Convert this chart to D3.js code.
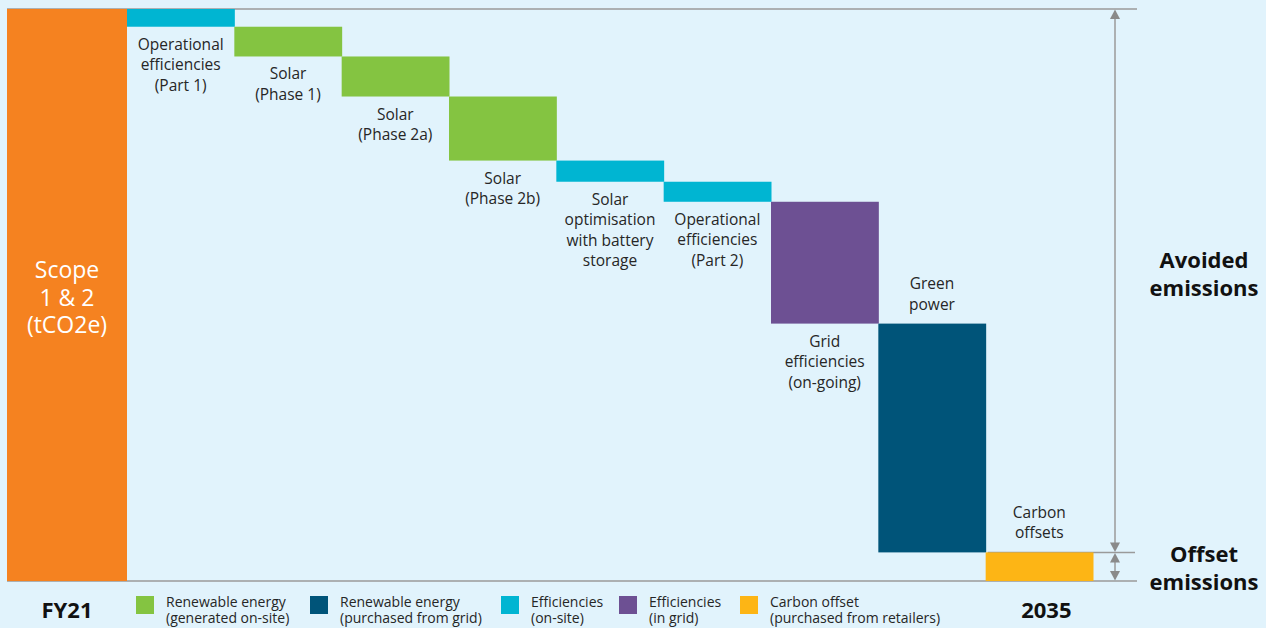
<!DOCTYPE html>
<html><head><meta charset="utf-8">
<script src="https://cdn.jsdelivr.net/npm/d3@7"></script>
<style>
html,body{margin:0;padding:0;background:#E1F3FC;}
svg{display:block;font-family:"Open Sans",sans-serif;}
</style></head>
<body><svg id="c" width="1266" height="628"></svg>
<script>
// ---- data ----
const startLabel = "FY21";
const endLabel = "2035";
const startValue = 100;
const startText = ["Scope", "1 & 2", "(tCO2e)"];
const steps = ["opEff1","solar1","solar2a","solar2b","solarOpt","opEff2","grid","green","offset"];
const stepValues = [3.1, 5.2, 7.0, 11.2, 3.7, 3.5, 21.3, 40.0, 5.0];
const stepTypes = ["eff","ren","ren","ren","eff","eff","grid","purchased","offset"];
const stepLabels = [
  ["Operational","efficiencies","(Part 1)"],
  ["Solar","(Phase 1)"],
  ["Solar","(Phase 2a)"],
  ["Solar","(Phase 2b)"],
  ["Solar","optimisation","with battery","storage"],
  ["Operational","efficiencies","(Part 2)"],
  ["Grid","efficiencies","(on-going)"],
  ["Green","power"],
  ["Carbon","offsets"]
];
const labelAbove = ["green","offset"];
const legendKeys = ["ren","purchased","eff","grid","offset"];
const legendLabels = [
  ["Renewable energy","(generated on-site)"],
  ["Renewable energy","(purchased from grid)"],
  ["Efficiencies","(on-site)"],
  ["Efficiencies","(in grid)"],
  ["Carbon offset","(purchased from retailers)"]
];
const sideLabels = [["Avoided","emissions"],["Offset","emissions"]];

// ---- styles ----
const colors = {start:"#F58220", eff:"#00B5D2", ren:"#84C441", purchased:"#005479", grid:"#6D5093", offset:"#FDB515"};
const svg = d3.select("#c");
const W = 1266, H = 628;
svg.append("rect").attr("width",W).attr("height",H).attr("fill","#E1F3FC");

const y = d3.scaleLinear().domain([0, startValue]).range([581, 9]);
const xStart = d3.scaleBand().domain([startLabel]).range([7, 127]).padding(0);
const x = d3.scaleBand().domain(steps).range([127, 1093]).padding(0);

// waterfall positions
let cum = startValue;
const bars = steps.map((k,i)=>{ const top = cum; cum -= stepValues[i]; return {key:k, top, bottom:cum, type:stepTypes[i], label:stepLabels[i]}; });

const lineCol = "#9a9a9a";
svg.append("line").attr("x1",7).attr("x2",1137).attr("y1",y(startValue)).attr("y2",y(startValue)).attr("stroke",lineCol).attr("stroke-width",1.5);
svg.append("line").attr("x1",7).attr("x2",1137).attr("y1",y(0)).attr("y2",y(0)).attr("stroke",lineCol).attr("stroke-width",1.5);
const offsetBar = bars[bars.length-1];
svg.append("line").attr("x1",x(offsetBar.key)+2).attr("x2",1135).attr("y1",y(offsetBar.top)).attr("y2",y(offsetBar.top)).attr("stroke",lineCol).attr("stroke-width",1.5);

// start bar
svg.append("rect").attr("x",xStart(startLabel)).attr("width",xStart.bandwidth())
  .attr("y",y(startValue)).attr("height",y(0)-y(startValue)).attr("fill",colors.start);
const st = svg.append("text").attr("fill","#fff").attr("font-size",23).attr("text-anchor","middle");
startText.forEach((t,i)=>st.append("tspan").attr("x",xStart(startLabel)+xStart.bandwidth()/2).attr("y",278+i*27.5).text(t));

// step bars
svg.selectAll("rect.step").data(bars).join("rect").attr("class","step")
  .attr("x",d=>x(d.key)).attr("width",x.bandwidth()+0.5)
  .attr("y",d=>y(d.top)).attr("height",d=>y(d.bottom)-y(d.top))
  .attr("fill",d=>colors[d.type]);

// step labels
bars.forEach(d=>{
  const cx = x(d.key)+x.bandwidth()/2;
  const t = svg.append("text").attr("fill","#262626").attr("font-size",15.5).attr("text-anchor","middle");
  const n = d.label.length;
  d.label.forEach((s,i)=>{
    let yy;
    if (labelAbove.includes(d.key)) yy = y(d.top) - 14 - (n-1-i)*20.5;
    else yy = y(d.bottom) + 23 + i*20.5;
    t.append("tspan").attr("x",cx).attr("y",yy).text(s);
  });
});

// category labels
svg.append("text").attr("x",xStart(startLabel)+xStart.bandwidth()/2).attr("y",618).attr("text-anchor","middle")
  .attr("font-size",22).attr("font-weight",700).attr("fill","#111").text(startLabel);
svg.append("text").attr("x",x(offsetBar.key)+x.bandwidth()/2+7).attr("y",618).attr("text-anchor","middle")
  .attr("font-size",22).attr("font-weight",700).attr("fill","#111").text(endLabel);

// arrows
const ax = 1115;
function vArrow(y1, y2){
  svg.append("line").attr("x1",ax).attr("x2",ax).attr("y1",y1+5).attr("y2",y2-5).attr("stroke",lineCol).attr("stroke-width",1.5);
  svg.append("path").attr("d",`M${ax},${y1+0.5}L${ax-5},${y1+10}L${ax+5},${y1+10}Z`).attr("fill","#8a8a8a");
  svg.append("path").attr("d",`M${ax},${y2-0.5}L${ax-5},${y2-10}L${ax+5},${y2-10}Z`).attr("fill","#8a8a8a");
}
vArrow(y(startValue), y(offsetBar.top));
vArrow(y(offsetBar.top), y(0));

// side labels
const sideY = [268, 562];
sideLabels.forEach((lines,j)=>{
  const t = svg.append("text").attr("font-size",22).attr("font-weight",700).attr("fill","#111").attr("text-anchor","middle");
  lines.forEach((s,i)=>t.append("tspan").attr("x",1204).attr("y",sideY[j]+i*28).text(s));
});

// legend
const legX = [136, 310, 501, 619, 740];
legendKeys.forEach((k,i)=>{
  svg.append("rect").attr("x",legX[i]).attr("y",596).attr("width",18).attr("height",18).attr("fill",colors[k]);
  const t = svg.append("text").attr("font-size",14).attr("fill","#262626");
  legendLabels[i].forEach((s,j)=>t.append("tspan").attr("x",legX[i]+30).attr("y",607+j*16).text(s));
});
</script></body></html>
